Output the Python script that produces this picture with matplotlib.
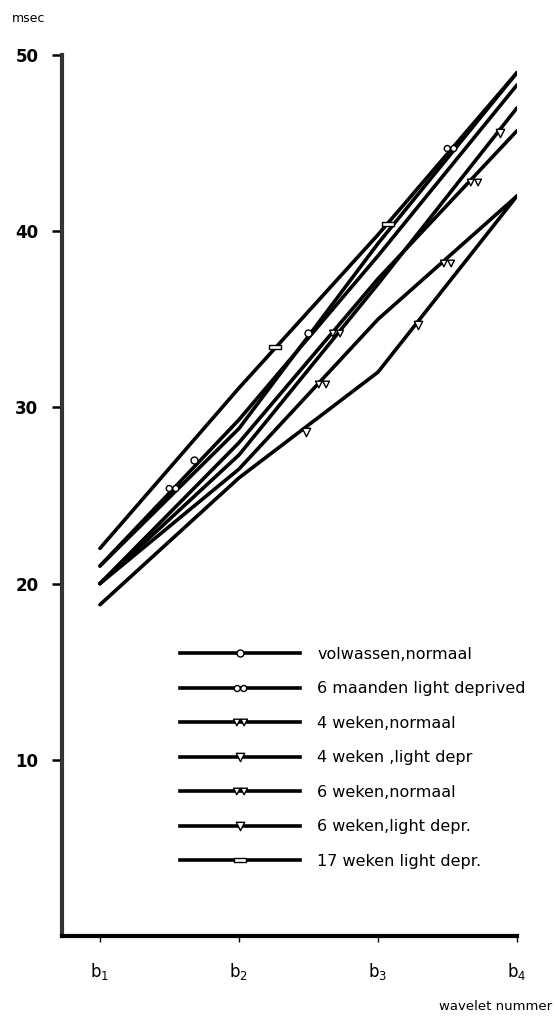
import numpy as np
import matplotlib
matplotlib.use("Agg")
import matplotlib.pyplot as plt
from matplotlib.path import Path
from matplotlib.lines import Line2D

plt.rcParams['font.family'] = ['DejaVu Sans']

# wavelet number b1..b4
x = [1, 2, 3, 4]
xlabels = ['b$_1$', 'b$_2$', 'b$_3$', 'b$_4$']

labels = ['volwassen,normaal', '6 maanden light deprived', '4 weken,normaal',
          '4 weken ,light depr', '6 weken,normaal', '6 weken,light depr.',
          '17 weken light depr.']

# latency values (msec) per group
volw = [21.0, 29.3, 38.6, 48.3]
maand6 = [21.0, 28.8, 39.3, 49.0]
wk4_norm = [20.0, 28.0, 37.3, 45.7]
wk4_ld = [20.0, 27.3, 37.0, 47.0]
wk6_norm = [20.0, 26.5, 35.0, 42.0]
wk6_ld = [18.8, 26.0, 32.0, 42.0]
wk17_ld = [22.0, 31.1, 39.8, 49.0]
series = [volw, maand6, wk4_norm, wk4_ld, wk6_norm, wk6_ld, wk17_ld]

# where the little symbols sit along the lines
mk_x = [[1.68, 2.50], [1.52, 3.52], [2.70, 3.69], [3.88],
        [2.60, 3.50], [2.48, 3.29], [2.26, 3.07]]
mk_y = [[27.0, 34.2], [25.4, 44.7], [34.2, 42.8], [45.6],
        [31.3, 38.2], [28.6, 34.7], [33.4, 40.4]]

# marker shapes
tri = [(-0.5, 0.5), (0.5, 0.5), (0.0, -0.5), (-0.5, 0.5)]
codes = [Path.MOVETO, Path.LINETO, Path.LINETO, Path.CLOSEPOLY]
tri1 = Path(tri, codes)
tri2 = Path([(px - 0.55, py) for px, py in tri] + [(px + 0.55, py) for px, py in tri],
            codes + codes)
circ2 = Path.make_compound_path(Path.circle((-0.55, 0), 0.5), Path.circle((0.55, 0), 0.5))
rect = Path([(-0.8, -0.3), (0.8, -0.3), (0.8, 0.3), (-0.8, 0.3), (-0.8, -0.3)],
            [Path.MOVETO, Path.LINETO, Path.LINETO, Path.LINETO, Path.CLOSEPOLY])
markers = ['o', circ2, tri2, tri1, tri2, tri1, rect]
msizes = [5, 9, 10, 6, 10, 6, 9]

fig = plt.figure(figsize=(5.56, 10.21), dpi=100)
ax = fig.add_axes([62 / 556, 1 - 936 / 1021, (517 - 62) / 556, (936 - 55) / 1021])

handles = []
for vals, lab, m, ms, xm, ym in zip(series, labels, markers, msizes, mk_x, mk_y):
    ax.plot(x, vals, color='black', lw=2.6, solid_capstyle='round', zorder=2)
    ax.plot(xm, ym, ls='none', marker=m, ms=ms, mfc='white', mec='black', mew=1.0, zorder=3)
    handles.append(Line2D([], [], color='black', lw=2.6, marker=m, ms=ms,
                          mfc='white', mec='black', mew=1.0, label=lab))

ax.set_xlim(0.727, 4)
ax.set_ylim(0, 50)
ax.set_xticks(x)
ax.set_xticklabels(xlabels, fontsize=12)
ax.set_yticks([10, 20, 30, 40, 50])
ax.set_yticklabels(['10', '20', '30', '40', '50'], fontsize=12, fontweight='bold')
ax.tick_params(axis='y', direction='out', length=7, width=1.8, pad=10)
ax.tick_params(axis='x', direction='out', length=4, width=1.0, pad=14)

for s in ['top', 'right']:
    ax.spines[s].set_visible(False)
ax.spines['left'].set_linewidth(3)
ax.spines['bottom'].set_linewidth(3)
ax.spines['left'].set_color('#333333')

fig.text(12 / 556, 1 - 18 / 1021, 'msec', fontsize=9, va='center', ha='left')
fig.text(552 / 556, 1 - 1006 / 1021, 'wavelet nummer', fontsize=9.5, va='center', ha='right')

fig.legend(handles=handles, loc='upper left', bbox_to_anchor=(180 / 556, 1 - 647 / 1021),
           frameon=False, fontsize=11.5, handlelength=7.5, handletextpad=1.1,
           labelspacing=1.22, borderpad=0, borderaxespad=0, numpoints=1)

fig.savefig('out.png', dpi=100)
